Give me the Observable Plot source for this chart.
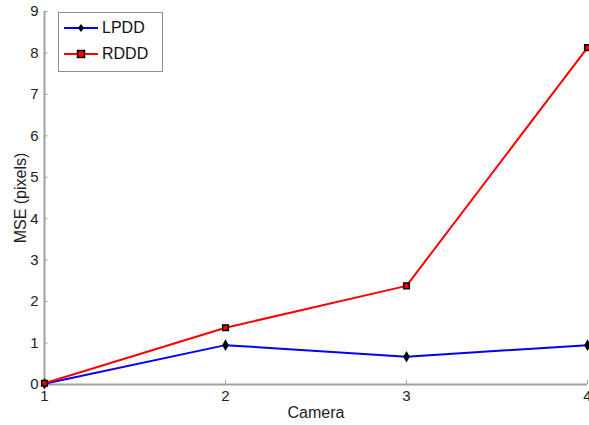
<!DOCTYPE html>
<html><head><meta charset="utf-8">
<script src="https://cdn.jsdelivr.net/npm/d3@7"></script>
<script src="https://cdn.jsdelivr.net/npm/@observablehq/plot@0.6"></script>
<style>
body{margin:0;background:#fff;}
#wrap{position:relative;width:589px;height:425px;font-family:"Liberation Sans",Arial,sans-serif;}
#legend{position:absolute;left:58px;top:12px;width:105px;height:60px;border:1px solid #8c8c8c;background:#fff;box-sizing:border-box;}
.row{position:absolute;left:5px;height:20px;display:flex;align-items:center;font-size:16px;color:#111;}
.row svg{margin-right:4px;}
</style>
</head><body><div id="wrap"></div>
<script>
const cameras = [1, 2, 3, 4];
const lpdd = [0.02, 0.95, 0.67, 0.95];
const rddd = [0.03, 1.37, 2.38, 8.13];
const xTicks = [1, 2, 3, 4];
const yTicks = [0, 1, 2, 3, 4, 5, 6, 7, 8, 9];
const seriesNames = ["LPDD", "RDDD"];
const seriesColors = ["#0000ff", "#ff0000"];

const lp = cameras.map((c, i) => ({camera: c, mse: lpdd[i]}));
const rd = cameras.map((c, i) => ({camera: c, mse: rddd[i]}));
const axisGray = "#a0a0a0";

const chart = Plot.plot({
  width: 589, height: 425,
  marginLeft: 44, marginRight: 2, marginTop: 11, marginBottom: 41,
  style: {fontFamily: "Liberation Sans, Arial, sans-serif", fontSize: "16px", color: "#222", background: "#fff"},
  x: {domain: [1, 4]},
  y: {domain: [0, 9]},
  marks: [
    Plot.axisX(xTicks, {tickSize: 0, tickPadding: 6, fontSize: 15, tickFormat: d3.format("d"), label: null}),
    Plot.axisY(yTicks, {tickSize: 0, tickPadding: 6, fontSize: 15, tickFormat: d3.format("d"), label: null}),
    Plot.axisX({ticks: [], label: "Camera", labelAnchor: "center", labelArrow: "none", labelOffset: 33, fontSize: 16}),
    Plot.axisY({ticks: [], label: "MSE (pixels)", labelAnchor: "center", labelArrow: "none", labelOffset: 30, fontSize: 16}),
    Plot.ruleX([1], {y1: 0, y2: 9, stroke: axisGray, strokeWidth: 2}),
    Plot.ruleY([0], {x1: 1, x2: 4, stroke: axisGray, strokeWidth: 2}),
    Plot.ruleY(yTicks, {y: d => d, x1: 1, x2: 1.02, stroke: axisGray}),
    Plot.ruleX(xTicks, {x: d => d, y1: 0, y2: 0.1, stroke: axisGray}),
    Plot.line(lp, {x: "camera", y: "mse", stroke: seriesColors[0], strokeWidth: 2}),
    Plot.line(rd, {x: "camera", y: "mse", stroke: seriesColors[1], strokeWidth: 2}),
    Plot.dot(lp, {x: "camera", y: "mse", symbol: "diamond", fill: "#000", r: 3.5}),
    Plot.dot(rd, {x: "camera", y: "mse", symbol: "square", fill: seriesColors[1], stroke: "#000", strokeWidth: 1.5, r: 3.2})
  ]
});
const wrap = document.getElementById("wrap");
wrap.appendChild(chart);

const legend = document.createElement("div");
legend.id = "legend";
seriesNames.forEach((name, i) => {
  const row = document.createElement("div");
  row.className = "row";
  row.style.top = (i === 0 ? 5 : 31) + "px";
  const marker = i === 0
    ? `<path d="M17,6 L20,10 L17,14 L14,10 Z" fill="#000"/>`
    : `<rect x="13.5" y="6.5" width="7" height="7" fill="${seriesColors[i]}" stroke="#000" stroke-width="1.5"/>`;
  row.innerHTML = `<svg width="34" height="20"><line x1="0" y1="10" x2="34" y2="10" stroke="${seriesColors[i]}" stroke-width="2"/>${marker}</svg><span>${name}</span>`;
  legend.appendChild(row);
});
wrap.appendChild(legend);
</script>
</body></html>
